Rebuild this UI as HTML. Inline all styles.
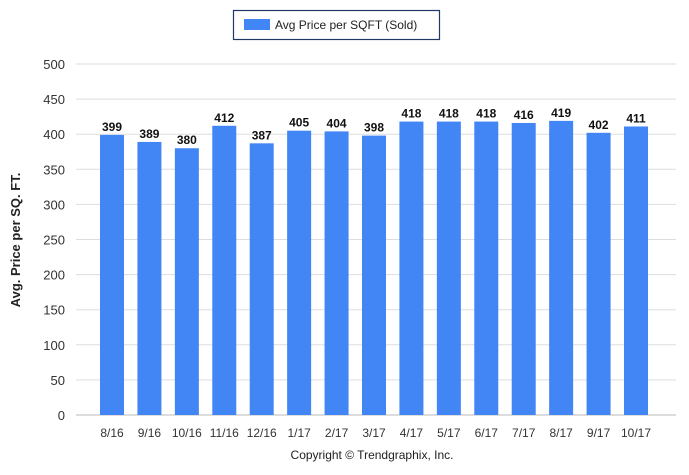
<!DOCTYPE html>
<html><head><meta charset="utf-8"><style>
body{margin:0;background:#fff;font-family:"Liberation Sans",sans-serif}
svg text{font-family:"Liberation Sans",sans-serif}
</style></head><body>
<svg id="c" width="689" height="470">
<g>
<rect x="233.5" y="10.5" width="206" height="29" fill="#fff" stroke="#1f3864" stroke-width="1.2"/>
<rect x="244" y="19" width="26" height="11" fill="#4285f4"/>
<text x="275" y="29" font-size="12" fill="#222">Avg Price per SQFT (Sold)</text>
</g>
<text transform="translate(20,240) rotate(-90)" text-anchor="middle" font-size="13" font-weight="bold" fill="#222">Avg. Price per SQ. FT.</text>
<text x="372" y="459" text-anchor="middle" font-size="12" fill="#222">Copyright © Trendgraphix, Inc.</text>
<g id="plot"></g>
</svg>
<script>
const categories=["8/16","9/16","10/16","11/16","12/16","1/17","2/17","3/17","4/17","5/17","6/17","7/17","8/17","9/17","10/17"];
const values=[399,389,380,412,387,405,404,398,418,418,418,416,419,402,411];
const yTicks=[0,50,100,150,200,250,300,350,400,450,500];
const ns="http://www.w3.org/2000/svg";
const g=document.getElementById('plot');
const x0=76,x1=676,y0=415,y1=64,yMax=500;
const y=v=>y0-(v/yMax)*(y0-y1);
const firstC=112,lastC=636;
const step=(lastC-firstC)/(categories.length-1);
const xc=i=>firstC+step*i;
function mk(t,a){const e=document.createElementNS(ns,t);for(const k in a)e.setAttribute(k,a[k]);g.appendChild(e);return e;}
yTicks.forEach(t=>{
 const l=mk('line',{x1:x0,x2:x1,y1:y(t),y2:y(t),stroke:t===0?'#bbb':'#ddd','stroke-width':1});
 
 
 const tx=mk('text',{x:65,y:y(t)+5,'text-anchor':'end','font-size':13,fill:'#333'});
 tx.textContent=t;
 
 
});
categories.forEach((c,i)=>{
 const r=mk('rect',{x:xc(i)-12,y:y(values[i]),width:24,height:y0-y(values[i]),fill:'#4285f4'});
 
 
 const v=mk('text',{x:xc(i),y:y(values[i])-4,'text-anchor':'middle','font-size':12,'font-weight':'bold',fill:'#111'});
 v.textContent=values[i];
 
 
 const t=mk('text',{x:xc(i),y:437,'text-anchor':'middle','font-size':12,fill:'#333'});
 t.textContent=c;
 
 
});
</script>
</body></html>
